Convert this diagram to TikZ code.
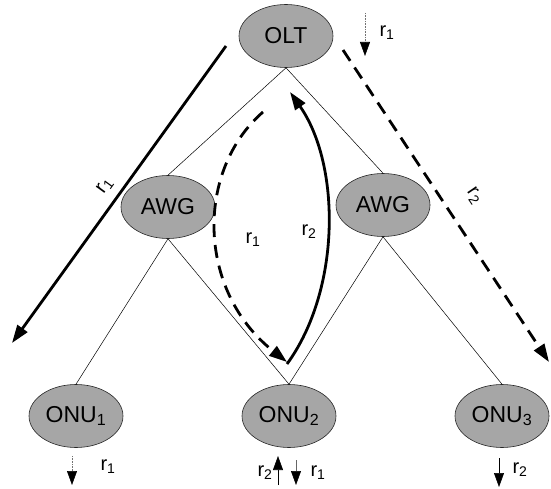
\documentclass[tikz,border=0pt]{standalone}
\usepackage{fontspec}
\setmainfont{Liberation Sans}
\usetikzlibrary{arrows.meta,shapes.geometric}

\newcommand\rsub[2]{#1\textsubscript{#2}}

\begin{document}
\begin{tikzpicture}[x=1pt,y=-1pt,
  unit/.style={ellipse, draw=black!85, line width=0.6pt, fill=black!35,
    minimum width=94pt, minimum height=63pt, inner sep=0pt,
    font=\fontsize{23}{27}\selectfont},
  link/.style={line width=0.5pt},
  flow/.style={line width=2.8pt, -{Triangle[length=18pt,width=12pt]}},
  dashflow/.style={flow, dash pattern=on 13pt off 8pt},
  rate/.style={font=\fontsize{20}{23}\selectfont, inner sep=1pt},
  tick/.style={line width=0.6pt, -{Triangle[length=14pt,width=10pt,color=black]}},
  faint/.style={tick, draw=black!55, densely dotted},
]
\useasboundingbox (0,0) rectangle (551,489);

% network elements
\node[unit] (olt)  at (286,36)  {OLT};
\node[unit] (awgl) at (168,207) {AWG};
\node[unit] (awgr) at (383,205) {AWG};
\node[unit] (onu1) at (76,416)  {\rsub{ONU}{1}};
\node[unit] (onu2) at (289,416) {\rsub{ONU}{2}};
\node[unit] (onu3) at (502,416) {\rsub{ONU}{3}};

% fibre tree
\draw[link] (olt.south) -- (awgl.north);
\draw[link] (olt.south) -- (awgr.north);
\draw[link] (awgl.south) -- (onu1.north);
\draw[link] (awgl.south) -- (onu2.north);
\draw[link] (awgr.south) -- (onu2.north);
\draw[link] (awgr.south) -- (onu3.north);

% wavelength routes
\coordinate (l1s) at (226,46);
\coordinate (l1e) at (12,343);
\draw[flow] (l1s) -- (l1e);
\node[rate, rotate=54] (l1lab) at (105,186) {\rsub{r}{1}};

\coordinate (l2s) at (343,50);
\coordinate (l2e) at (549,362);
\draw[dashflow] (l2s) -- (l2e);
\node[rate, rotate=-56] (l2lab) at (474,196) {\rsub{r}{2}};

\coordinate (m1s) at (263,112);
\coordinate (m1e) at (287,362);
\draw[dashflow] (m1s) .. controls (196,170) and (196,290) .. (m1e);
\node[rate] (m1lab) at (253,240) {\rsub{r}{1}};

\coordinate (m2s) at (287,364);
\coordinate (m2e) at (290,92);
\draw[flow] (m2s) .. controls (341,290) and (341,165) .. (m2e);
\node[rate] (m2lab) at (309,232) {\rsub{r}{2}};

% local rates
\coordinate (t0s) at (365,13);
\coordinate (t0e) at (365,56);
\draw[faint] (t0s) -- (t0e);
\node[rate] (t0lab) at (387,33) {\rsub{r}{1}};

\coordinate (t1s) at (72,456);
\coordinate (t1e) at (72,485);
\draw[faint] (t1s) -- (t1e);
\node[rate] (t1lab) at (108,467) {\rsub{r}{1}};

\coordinate (t2s) at (278,485);
\coordinate (t2e) at (278,456);
\draw[tick] (t2s) -- (t2e);
\node[rate] (t2lab) at (265,473) {\rsub{r}{2}};

\coordinate (t3s) at (296,460);
\coordinate (t3e) at (296,485);
\draw[tick, draw=black!60] (t3s) -- (t3e);
\node[rate] (t3lab) at (318,473) {\rsub{r}{1}};

\coordinate (t4s) at (499,458);
\coordinate (t4e) at (499,487);
\draw[tick] (t4s) -- (t4e);
\node[rate] (t4lab) at (520,470) {\rsub{r}{2}};
\end{tikzpicture}
\end{document}
